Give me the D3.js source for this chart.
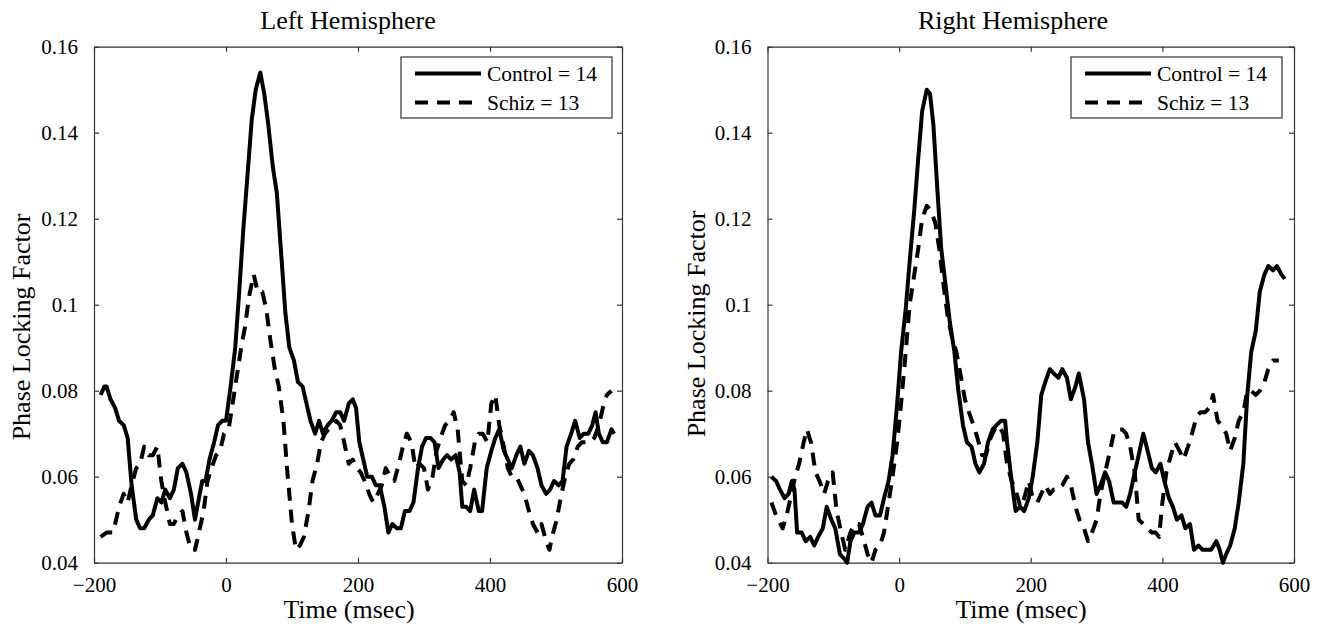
<!DOCTYPE html>
<html>
<head>
<meta charset="utf-8">
<script src="https://cdn.jsdelivr.net/npm/d3@7"></script>
<style>
  body { margin: 0; background: #fff; }
  svg { display: block; }
  text { font-family: "Liberation Serif", "Times New Roman", serif; fill: #000; }
</style>
</head>
<body>
<svg width="1326" height="629"></svg>
<script>
// ---- data (time in msec, phase locking factor) ----
const xTicks = [-200, 0, 200, 400, 600];
const yTicks = [0.04, 0.06, 0.08, 0.1, 0.12, 0.14, 0.16];
const seriesNames = ["Control = 14", "Schiz = 13"];

const leftControl = [[-190,0.079],[-184,0.081],[-181,0.081],[-175,0.078],[-168,0.076],[-162,0.073],[-155,0.072],[-149,0.069],[-143,0.058],[-136,0.050],[-130,0.048],[-124,0.048],[-117,0.050],[-111,0.051],[-104,0.055],[-98,0.054],[-92,0.057],[-85,0.055],[-79,0.057],[-73,0.062],[-66,0.063],[-60,0.061],[-53,0.056],[-47,0.050],[-41,0.055],[-36,0.059],[-31,0.059],[-25,0.064],[-18,0.068],[-12,0.072],[-6,0.073],[0,0.073],[7,0.081],[14,0.090],[20,0.103],[26,0.117],[33,0.131],[39,0.143],[45,0.150],[52,0.154],[58,0.149],[64,0.142],[71,0.132],[77,0.126],[84,0.111],[90,0.098],[96,0.090],[103,0.087],[109,0.082],[116,0.081],[122,0.077],[128,0.073],[135,0.070],[141,0.073],[147,0.070],[154,0.072],[160,0.073],[167,0.075],[173,0.075],[179,0.073],[186,0.077],[192,0.078],[197,0.076],[202,0.068],[208,0.064],[214,0.060],[221,0.060],[227,0.058],[233,0.058],[240,0.053],[246,0.047],[252,0.049],[259,0.048],[265,0.048],[271,0.052],[278,0.052],[284,0.054],[291,0.062],[297,0.067],[303,0.069],[310,0.069],[316,0.068],[322,0.062],[329,0.064],[335,0.065],[341,0.064],[348,0.065],[354,0.061],[358,0.053],[364,0.053],[370,0.052],[376,0.057],[383,0.052],[388,0.052],[395,0.062],[402,0.066],[408,0.069],[414,0.071],[421,0.066],[427,0.064],[433,0.062],[440,0.065],[446,0.067],[452,0.063],[459,0.066],[465,0.065],[472,0.062],[478,0.058],[485,0.056],[491,0.057],[497,0.059],[504,0.058],[510,0.059],[516,0.067],[523,0.070],[529,0.073],[536,0.069],[542,0.070],[549,0.070],[555,0.072],[560,0.075],[565,0.070],[571,0.068],[577,0.068],[584,0.071],[588,0.070]];

const leftSchiz = [[-190,0.046],[-181,0.047],[-171,0.047],[-162,0.053],[-155,0.056],[-149,0.054],[-143,0.058],[-136,0.062],[-130,0.063],[-124,0.067],[-117,0.065],[-111,0.065],[-104,0.067],[-98,0.059],[-92,0.054],[-85,0.049],[-79,0.049],[-73,0.051],[-66,0.052],[-60,0.047],[-53,0.043],[-47,0.043],[-41,0.047],[-34,0.052],[-28,0.059],[-22,0.062],[-15,0.065],[-9,0.066],[-3,0.070],[4,0.071],[10,0.077],[16,0.083],[23,0.090],[29,0.095],[35,0.102],[42,0.107],[48,0.103],[55,0.103],[61,0.099],[67,0.092],[74,0.085],[80,0.081],[87,0.073],[93,0.061],[100,0.049],[106,0.043],[112,0.044],[118,0.046],[125,0.052],[131,0.059],[138,0.063],[144,0.068],[150,0.070],[160,0.072],[167,0.073],[173,0.072],[179,0.068],[186,0.063],[192,0.064],[198,0.062],[204,0.061],[210,0.059],[217,0.056],[223,0.054],[230,0.056],[236,0.058],[242,0.062],[249,0.060],[255,0.059],[262,0.063],[268,0.067],[274,0.070],[281,0.068],[287,0.062],[293,0.063],[300,0.062],[306,0.057],[313,0.060],[319,0.066],[325,0.069],[332,0.072],[339,0.073],[345,0.075],[351,0.071],[358,0.059],[364,0.058],[370,0.062],[377,0.068],[383,0.070],[389,0.070],[396,0.068],[402,0.077],[408,0.079],[414,0.072],[421,0.067],[427,0.062],[433,0.060],[440,0.060],[446,0.058],[452,0.056],[459,0.052],[465,0.049],[472,0.047],[478,0.049],[485,0.045],[490,0.043],[494,0.046],[501,0.050],[507,0.055],[514,0.060],[520,0.063],[526,0.064],[533,0.067],[539,0.068],[546,0.068],[552,0.068],[558,0.069],[565,0.072],[571,0.076],[577,0.079],[584,0.080]];

const rightControl = [[-194,0.060],[-187,0.059],[-181,0.057],[-174,0.055],[-168,0.056],[-163,0.059],[-159,0.057],[-155,0.047],[-148,0.047],[-142,0.045],[-135,0.046],[-129,0.044],[-123,0.046],[-116,0.048],[-110,0.053],[-103,0.050],[-97,0.048],[-90,0.042],[-84,0.041],[-79,0.040],[-74,0.045],[-68,0.047],[-61,0.047],[-55,0.049],[-48,0.053],[-42,0.054],[-36,0.051],[-29,0.051],[-23,0.055],[-16,0.059],[-10,0.065],[-3,0.077],[3,0.089],[10,0.099],[16,0.110],[23,0.122],[29,0.134],[35,0.145],[42,0.150],[47,0.149],[52,0.142],[58,0.127],[64,0.113],[71,0.104],[77,0.096],[84,0.089],[90,0.080],[97,0.072],[103,0.068],[110,0.067],[116,0.063],[122,0.061],[129,0.063],[135,0.068],[142,0.071],[148,0.072],[155,0.073],[161,0.073],[164,0.068],[171,0.059],[177,0.052],[184,0.053],[190,0.052],[197,0.055],[203,0.060],[210,0.068],[216,0.079],[222,0.082],[229,0.085],[235,0.084],[242,0.083],[248,0.085],[255,0.083],[261,0.078],[268,0.081],[273,0.084],[281,0.078],[287,0.068],[293,0.063],[300,0.056],[306,0.058],[313,0.061],[319,0.059],[326,0.054],[332,0.054],[339,0.054],[345,0.053],[351,0.056],[358,0.061],[364,0.065],[371,0.070],[376,0.067],[384,0.062],[390,0.061],[397,0.063],[403,0.059],[410,0.055],[416,0.053],[422,0.050],[429,0.051],[435,0.048],[442,0.049],[448,0.043],[455,0.044],[461,0.043],[468,0.043],[474,0.043],[482,0.045],[487,0.043],[492,0.040],[497,0.042],[503,0.044],[510,0.048],[516,0.054],[523,0.063],[529,0.079],[535,0.089],[542,0.094],[548,0.103],[555,0.107],[561,0.109],[568,0.108],[574,0.109],[581,0.107],[586,0.106]];

const rightSchiz = [[-194,0.054],[-187,0.051],[-177,0.048],[-171,0.051],[-165,0.055],[-158,0.060],[-152,0.063],[-145,0.068],[-140,0.071],[-134,0.068],[-127,0.061],[-121,0.059],[-114,0.056],[-108,0.059],[-101,0.061],[-95,0.052],[-88,0.047],[-82,0.043],[-74,0.047],[-68,0.049],[-61,0.049],[-55,0.046],[-48,0.042],[-42,0.040],[-36,0.043],[-29,0.044],[-23,0.047],[-16,0.054],[-10,0.060],[-3,0.068],[3,0.077],[10,0.089],[16,0.100],[23,0.107],[29,0.113],[35,0.120],[42,0.123],[48,0.122],[55,0.119],[61,0.113],[68,0.104],[74,0.097],[81,0.092],[87,0.089],[93,0.084],[100,0.078],[106,0.075],[113,0.072],[119,0.069],[126,0.065],[132,0.065],[139,0.069],[145,0.071],[152,0.072],[158,0.070],[164,0.063],[171,0.059],[177,0.057],[184,0.053],[190,0.055],[197,0.059],[203,0.055],[210,0.054],[216,0.056],[222,0.058],[229,0.056],[235,0.057],[242,0.057],[248,0.058],[255,0.060],[261,0.058],[268,0.053],[274,0.050],[281,0.048],[287,0.045],[293,0.047],[300,0.050],[306,0.056],[313,0.061],[319,0.065],[326,0.070],[332,0.071],[339,0.071],[345,0.070],[351,0.067],[358,0.061],[364,0.050],[371,0.049],[377,0.048],[384,0.047],[390,0.047],[395,0.046],[400,0.054],[406,0.061],[413,0.065],[419,0.068],[426,0.066],[432,0.064],[439,0.067],[445,0.070],[452,0.074],[458,0.075],[465,0.075],[471,0.076],[477,0.079],[484,0.073],[490,0.072],[497,0.070],[503,0.066],[510,0.069],[516,0.073],[523,0.075],[529,0.080],[535,0.080],[542,0.079],[548,0.080],[555,0.082],[561,0.085],[568,0.087],[577,0.087]];

// ---- layout ----
const panels = [
  { title: "Left Hemisphere", x0: 94, x1: 622, control: leftControl, schiz: leftSchiz,
    titleX: 348, xlabX: 349, ylabX: 30, ylabY: 327, legX: 401 },
  { title: "Right Hemisphere", x0: 767.5, x1: 1294, control: rightControl, schiz: rightSchiz,
    titleX: 1013, xlabX: 1021, ylabX: 705, ylabY: 324, legX: 1071 }
];
const plotTop = 46.7, plotBottom = 562.7;
const dash = "13,9";
const serif = '"Liberation Serif", "Times New Roman", serif';

const svg = d3.select("svg");

panels.forEach(function(p) {
  const x = d3.scaleLinear().domain([-200, 600]).range([p.x0, p.x1]);
  const y = d3.scaleLinear().domain([0.04, 0.16]).range([plotBottom, plotTop]);
  const g = svg.append("g");

  // axes: ticks inward on all four sides
  const fmtY = d => String(+d.toFixed(2));
  const axB = g.append("g").attr("transform", "translate(0," + plotBottom + ")")
    .call(d3.axisBottom(x).tickValues(xTicks).tickSizeInner(-5).tickSizeOuter(0).tickPadding(14));
  const axT = g.append("g").attr("transform", "translate(0," + plotTop + ")")
    .call(d3.axisTop(x).tickValues(xTicks).tickSizeInner(-5).tickSizeOuter(0).tickFormat(""));
  const axL = g.append("g").attr("transform", "translate(" + p.x0 + ",0)")
    .call(d3.axisLeft(y).tickValues(yTicks).tickSizeInner(-5).tickSizeOuter(0).tickPadding(16).tickFormat(fmtY));
  const axR = g.append("g").attr("transform", "translate(" + p.x1 + ",0)")
    .call(d3.axisRight(y).tickValues(yTicks).tickSizeInner(-5).tickSizeOuter(0).tickFormat(""));
  [axB, axT, axL, axR].forEach(function(a) {
    a.attr("font-family", null);
    a.selectAll("path,line").attr("stroke", "#333").attr("stroke-width", 1.2);
    a.selectAll("text").style("font-family", serif).attr("font-size", 21).attr("fill", "#000");
  });
  axB.selectAll("text").attr("dy", "0.71em");

  // lines
  const line = d3.line().x(d => x(d[0])).y(d => y(d[1]));
  g.append("path").datum(p.schiz).attr("d", line)
    .attr("fill", "none").attr("stroke", "#000").attr("stroke-width", 4)
    .attr("stroke-dasharray", dash).attr("stroke-linejoin", "round");
  g.append("path").datum(p.control).attr("d", line)
    .attr("fill", "none").attr("stroke", "#000").attr("stroke-width", 4)
    .attr("stroke-linejoin", "round");

  // titles and labels
  g.append("text").attr("x", p.titleX).attr("y", 29).attr("text-anchor", "middle")
    .style("font-family", serif).attr("font-size", 26).text(p.title);
  g.append("text").attr("x", p.xlabX).attr("y", 618).attr("text-anchor", "middle")
    .style("font-family", serif).attr("font-size", 26).text("Time (msec)");
  g.append("text").attr("transform", "translate(" + p.ylabX + "," + p.ylabY + ") rotate(-90)")
    .attr("text-anchor", "middle").style("font-family", serif).attr("font-size", 26)
    .text("Phase Locking Factor");

  // legend
  const lg = g.append("g").attr("transform", "translate(" + p.legX + ",57)");
  lg.append("rect").attr("width", 211).attr("height", 61)
    .attr("fill", "#fff").attr("stroke", "#333").attr("stroke-width", 1.2);
  seriesNames.forEach(function(name, i) {
    const yy = 16.5 + i * 29;
    lg.append("line").attr("x1", 14).attr("x2", 80).attr("y1", yy).attr("y2", yy)
      .attr("stroke", "#000").attr("stroke-width", 4)
      .attr("stroke-dasharray", i === 0 ? null : dash);
    lg.append("text").attr("x", 86).attr("y", yy).attr("dy", "0.35em")
      .style("font-family", serif).attr("font-size", 21.5).text(name);
  });
});
</script>
</body>
</html>
